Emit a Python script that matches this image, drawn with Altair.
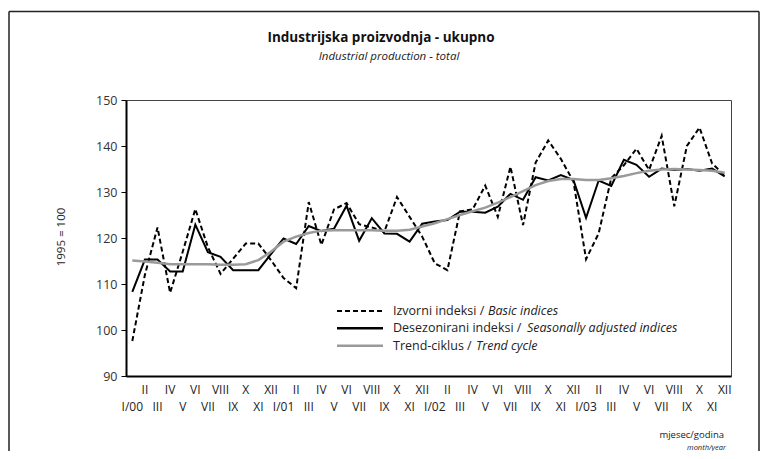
import altair as alt
import pandas as pd

# ---- data ----
months_roman = ["I", "II", "III", "IV", "V", "VI", "VII", "VIII", "IX", "X", "XI", "XII"]
years = ["00", "01", "02", "03"]

basic = [97.6, 112.0, 122.3, 108.1, 117.0, 126.3, 118.0, 112.2, 115.5, 118.8, 118.8, 115.2,
         111.3, 109.1, 127.8, 118.5, 126.2, 127.6, 123.0, 122.3, 121.4, 128.9, 124.6, 120.3,
         114.5, 113.0, 125.8, 126.2, 131.4, 124.6, 135.5, 122.8, 136.4, 141.2, 137.2, 132.3,
         115.4, 121.0, 133.0, 135.8, 139.4, 134.8, 142.2, 126.9, 140.0, 144.0, 136.2, 133.6]
seas = [108.3, 115.3, 115.3, 112.7, 112.7, 122.9, 116.9, 115.9, 113.0, 113.0, 113.0, 116.5,
        119.9, 118.7, 122.6, 121.5, 122.0, 127.0, 119.4, 124.3, 121.0, 120.9, 119.2, 123.1,
        123.6, 123.9, 125.7, 125.7, 125.5, 126.8, 129.6, 128.3, 133.2, 132.5, 133.7, 132.6,
        124.4, 132.5, 131.3, 137.0, 135.9, 133.3, 135.1, 134.8, 135.0, 134.6, 135.1, 133.4]
trend = [115.1, 114.9, 114.6, 114.3, 114.3, 114.3, 114.3, 114.2, 114.2, 114.3, 115.2, 117.0,
         119.2, 120.3, 121.1, 121.6, 121.7, 121.7, 121.7, 121.7, 121.6, 121.6, 121.8, 122.5,
         123.2, 124.1, 125.0, 125.8, 126.6, 127.7, 128.9, 130.2, 131.5, 132.4, 132.8, 132.8,
         132.6, 132.6, 133.0, 133.5, 134.1, 134.6, 134.9, 135.0, 134.9, 134.8, 134.6, 134.2]

y_ticks = [90, 100, 110, 120, 130, 140, 150]

title_text = "Industrijska proizvodnja - ukupno"
subtitle_text = "Industrial production - total"
y_title = "1995 = 100"
x_title = "mjesec/godina"
x_subtitle = "month/year"
legend_regular = ["Izvorni indeksi /", "Desezonirani indeksi /", "Trend-ciklus /"]
legend_italic = ["Basic indices", "Seasonally adjusted indices", "Trend cycle"]

# ---- tables ----
idx = list(range(len(basic)))
labels = [f"I/{y}" if m == "I" else m for y in years for m in months_roman]
df = pd.DataFrame({"t": idx, "label": labels, "basic": basic, "seas": seas, "trend": trend,
                   "row": [i % 2 for i in idx]})

FONT = "Open Sans"
W, H = 605, 276

xscale = alt.Scale(domain=[-0.5, 47.5], nice=False, zero=False)
yscale = alt.Scale(domain=[90, 150], nice=False, zero=False)

xaxis = alt.Axis(labels=False, ticks=False, grid=False, title=None,
                 domainColor="#000", domainWidth=2)
yaxis = alt.Axis(values=y_ticks, grid=False, title=None, domainColor="#000", domainWidth=2,
                 tickColor="#000", tickSize=5, tickWidth=1, labelPadding=4,
                 labelFont=FONT, labelFontSize=12.5, labelColor="#333")

base = alt.Chart(df)

l_basic = base.mark_line(color="#000", strokeWidth=2, strokeDash=[5, 3]).encode(
    x=alt.X("t:Q", scale=xscale, axis=xaxis),
    y=alt.Y("basic:Q", scale=yscale, axis=yaxis),
)
l_seas = base.mark_line(color="#000", strokeWidth=2).encode(
    x=alt.X("t:Q", scale=xscale, axis=xaxis),
    y=alt.Y("seas:Q", scale=yscale, axis=yaxis),
)
l_trend = base.mark_line(color="#9a9a9a", strokeWidth=2.5).encode(
    x=alt.X("t:Q", scale=xscale, axis=xaxis),
    y=alt.Y("trend:Q", scale=yscale, axis=yaxis),
)

# x tick labels in two rows
xl_top = base.transform_filter("datum.row == 1").mark_text(
    font=FONT, fontSize=12, color="#222", baseline="middle").encode(
    x=alt.X("t:Q", scale=xscale), y=alt.value(H + 13.5), text="label:N")
xl_bot = base.transform_filter("datum.row == 0").mark_text(
    font=FONT, fontSize=12, color="#222", baseline="middle").encode(
    x=alt.X("t:Q", scale=xscale), y=alt.value(H + 30.5), text="label:N")

one = pd.DataFrame({"k": [0]})


def txt(text, x, y, size, **kw):
    return alt.Chart(one).mark_text(font=FONT, fontSize=size, baseline="middle", **kw).encode(
        x=alt.value(x), y=alt.value(y), text=alt.value(text))


texts = [
    txt(title_text, 255, -62, 13.5, fontWeight="bold", color="#111", align="center"),
    txt(subtitle_text, 263, -43.5, 11.5, fontStyle="italic", color="#222", align="center"),
    txt(y_title, -64, 137, 11.5, angle=270, color="#222", align="center"),
    txt(x_title, 598, 335, 9.5, color="#222", align="right"),
    txt(x_subtitle, 600, 347.5, 7.5, fontStyle="italic", color="#222", align="right"),
]

# legend
leg_y = [211, 228.3, 245.7]
leg_italic_x = [362, 401, 350]
legend_layers = [
    alt.Chart(one).mark_rule(color="#000", strokeWidth=2, strokeDash=[5, 3]).encode(
        x=alt.value(211), x2=alt.value(257), y=alt.value(leg_y[0])),
    alt.Chart(one).mark_rule(color="#000", strokeWidth=2.5).encode(
        x=alt.value(211), x2=alt.value(257), y=alt.value(leg_y[1])),
    alt.Chart(one).mark_rule(color="#9a9a9a", strokeWidth=2.5).encode(
        x=alt.value(211), x2=alt.value(257), y=alt.value(leg_y[2])),
]
for i in range(3):
    legend_layers.append(txt(legend_regular[i], 267, leg_y[i], 12.5, color="#222", align="left"))
    legend_layers.append(txt(legend_italic[i], leg_italic_x[i], leg_y[i], 12.5,
                             fontStyle="italic", color="#222", align="left"))

# outer frame
frame = [
    alt.Chart(one).mark_rule(color="#222", strokeWidth=1.5).encode(
        x=alt.value(-117), x2=alt.value(633), y=alt.value(-88.5)),
    alt.Chart(one).mark_rule(color="#222", strokeWidth=1.5).encode(
        x=alt.value(-117), y=alt.value(-88.5), y2=alt.value(400)),
    alt.Chart(one).mark_rule(color="#222", strokeWidth=1.5).encode(
        x=alt.value(633), y=alt.value(-88.5), y2=alt.value(400)),
]

chart = alt.layer(
    l_basic, l_seas, l_trend, xl_top, xl_bot, *texts, *legend_layers, *frame
).properties(
    width=W, height=H,
    autosize=alt.AutoSizeParams(type="none"),
    padding={"left": 118, "top": 92, "right": 29, "bottom": 75},
    background="white",
).configure_view(
    stroke="#444", strokeWidth=1
)

chart.save("out.html", embed_options={"renderer": "svg", "actions": False})
